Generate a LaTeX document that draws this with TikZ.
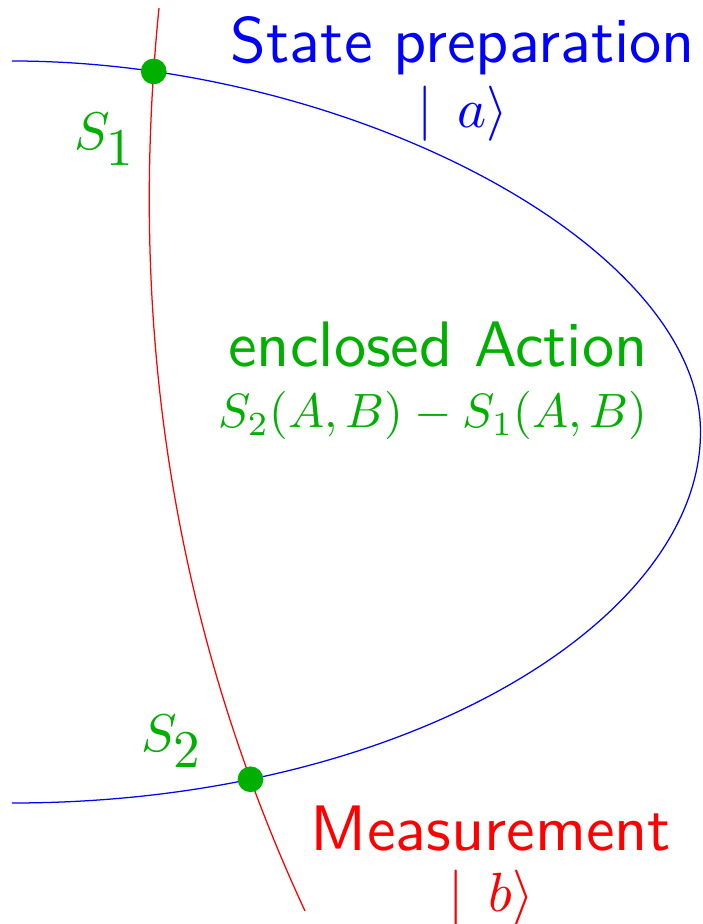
\documentclass[tikz,border=0pt]{standalone}
\usepackage{amsfonts,amssymb,amsmath}
\usepackage{xcolor}
\usepackage{tikz}
\usetikzlibrary{intersections}
\definecolor{actgreen}{RGB}{0,175,0}
\tikzset{
  spot/.style={shape=circle,fill=actgreen,inner sep=0pt,minimum size=0.36cm},
  word/.style={anchor=base,inner sep=0pt,font=\normalsize\sffamily,scale=2.56},
  formula/.style={anchor=base,inner sep=0pt,font=\normalsize,scale=1.92},
  ket/.style={anchor=base,inner sep=0pt,font=\normalsize,scale=2.2}
}
\begin{document}
\begin{tikzpicture}[=>stealth]
\useasboundingbox (0,0) rectangle (9.828,12.936);
% end points of the two paths
\coordinate (a0) at (0.168,12.082);
\coordinate (av) at (9.807,6.888);
\coordinate (a1) at (0.168,1.694);
\coordinate (b0) at (2.226,12.824);
\coordinate (b1) at (4.270,0.182);
\draw[blue,line width=0.5pt,name path=prep](a0)..controls(4.858,12.082)and(9.807,9.52)..(av)
..controls(9.807,4.228)and(5.628,1.694)..(a1);
\draw[red,line width=0.5pt,name path=meas](b0)..controls(1.806,8.624)and(2.324,4.382)..(b1);
\path[name intersections={of=prep and meas,by={x1,x2}}];
\node[spot](s1) at (x1){};
\node[spot](s2) at (x2){};
\node[formula,actgreen,scale=1.1](s1lbl) at (1.47,10.836){$S_{\textstyle 1}$};
\node[formula,actgreen,scale=1.1](s2lbl) at (2.408,2.408){$S_{\textstyle 2}$};
\node[word,blue](preptxt) at (6.482,12.054){State preparation};
\node[ket,blue](keta) at (6.482,11.144){$|\mkern8mu a\rangle$};
\node[word,actgreen](acttxt) at (6.132,7.798){enclosed Action};
\node[formula,actgreen](actmath) at (6.062,6.944){$S_2(A,B)-S_1(A,B)$};
\node[word,red](meastxt) at (6.874,1.036){Measurement};
\node[ket,red](ketb) at (6.874,0.176){$|\mkern8mu b\rangle$};
\end{tikzpicture}
\end{document}
